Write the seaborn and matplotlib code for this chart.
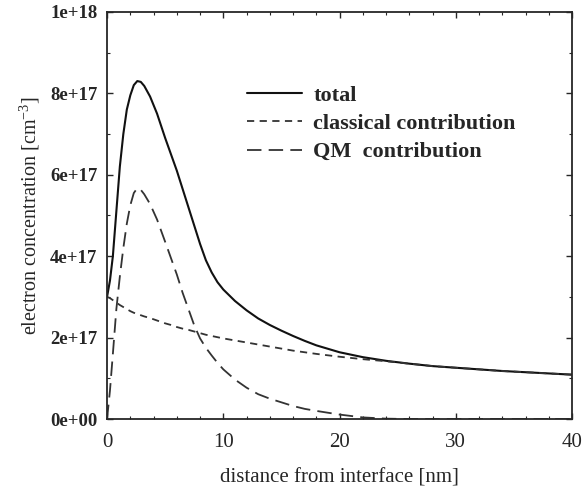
import numpy as np
import pandas as pd
import matplotlib
matplotlib.use("Agg")
import matplotlib.pyplot as plt
import seaborn as sns
from matplotlib.ticker import MultipleLocator, FuncFormatter

# ===== 数据（从图中读取，单位 1e18 cm^-3） =====
x_nm = [0, 0.25, 0.5, 0.8, 1.1, 1.4, 1.7, 2.0, 2.3, 2.6, 2.9, 3.2, 3.7, 4.3, 5.0,
        5.5, 6.0, 6.5, 7.0, 7.5, 8.0, 8.5, 9.0, 9.5, 10, 11, 12, 13, 14, 15,
        16, 17, 18, 20, 22, 24, 26, 28, 30, 32, 34, 36, 38, 40]
total = [0.30, 0.34, 0.40, 0.51, 0.62, 0.70, 0.76, 0.795, 0.82, 0.83, 0.828, 0.818, 0.792,
         0.75, 0.69, 0.65, 0.61, 0.565, 0.52, 0.475, 0.43, 0.39, 0.36, 0.336, 0.318, 0.29,
         0.267, 0.247, 0.231, 0.217, 0.204, 0.192, 0.181, 0.164, 0.152, 0.143, 0.136, 0.130,
         0.126, 0.122, 0.118, 0.115, 0.112, 0.109]
classical = [0.300, 0.297, 0.292, 0.286, 0.280, 0.275, 0.270, 0.265, 0.261, 0.258, 0.255,
             0.252, 0.248, 0.242, 0.235, 0.231, 0.226, 0.222, 0.219, 0.215, 0.211, 0.207,
             0.204, 0.201, 0.198, 0.193, 0.188, 0.183, 0.178, 0.173, 0.168, 0.164, 0.160,
             0.153, 0.147, 0.142, 0.136, 0.130, 0.126, 0.122, 0.118, 0.115, 0.112, 0.109]
qm = [0.0, 0.07, 0.16, 0.27, 0.35, 0.42, 0.48, 0.525, 0.555, 0.567, 0.563, 0.552, 0.528,
      0.49, 0.435, 0.395, 0.355, 0.31, 0.27, 0.23, 0.198, 0.175, 0.156, 0.138, 0.122, 0.097,
      0.077, 0.061, 0.050, 0.041, 0.032, 0.025, 0.020, 0.011, 0.004, 0.001, 0, 0, 0, 0, 0,
      0, 0, 0]
labels = ["total", "classical contribution", "QM  contribution"]

df = pd.DataFrame({"x": x_nm,
                   labels[0]: np.array(total) * 1e18,
                   labels[1]: np.array(classical) * 1e18,
                   labels[2]: np.array(qm) * 1e18})

sns.set_style("ticks")
plt.rcParams["font.family"] = ["Liberation Serif", "DejaVu Serif"]

fig = plt.figure(figsize=(5.85, 4.93), dpi=100)
ax = fig.add_axes([0.183, 0.150, 0.795, 0.826])

styles = [(None, 1.5), ((0, (4, 3)), 1.3), ((0, (8, 4)), 1.3)]
colors = ["#111111", "#333333", "#333333"]
for lab, (ls, lw), c in zip(labels, styles, colors):
    kw = {} if ls is None else {"linestyle": ls}
    sns.lineplot(data=df, x="x", y=lab, ax=ax, color=c, linewidth=lw, label=lab, **kw)

ax.set_xlim(0, 40)
ax.set_ylim(0, 1e18)
ax.xaxis.set_major_locator(MultipleLocator(10))
ax.xaxis.set_minor_locator(MultipleLocator(2))
ax.yaxis.set_major_locator(MultipleLocator(2e17))
ax.yaxis.set_minor_locator(MultipleLocator(1e17))
ax.yaxis.set_major_formatter(FuncFormatter(lambda v, p: f"{v:.0e}"))
ax.tick_params(which="both", direction="in", top=True, right=True)
ax.tick_params(which="major", length=4, width=1)
ax.tick_params(which="minor", length=2.5, width=0.8)
ax.tick_params(axis="x", labelsize=15, pad=10)
ax.tick_params(axis="y", labelsize=13.5, pad=7)
for t in ax.get_yticklabels():
    t.set_fontweight("bold")
for s in ax.spines.values():
    s.set_linewidth(1.3)

ax.set_xlabel("distance from interface [nm]", fontsize=15, labelpad=12)
ax.set_ylabel("electron concentration [cm$^{\\mathregular{-3}}$]", fontsize=14.5, labelpad=6)

ax.legend(loc="upper left", bbox_to_anchor=(0.30, 0.82), frameon=False, borderpad=0,
          borderaxespad=0, handlelength=2.5, handletextpad=0.5, labelspacing=0.35,
          prop={"size": 16, "weight": "bold"})

fig.savefig("out.png", dpi=100)
